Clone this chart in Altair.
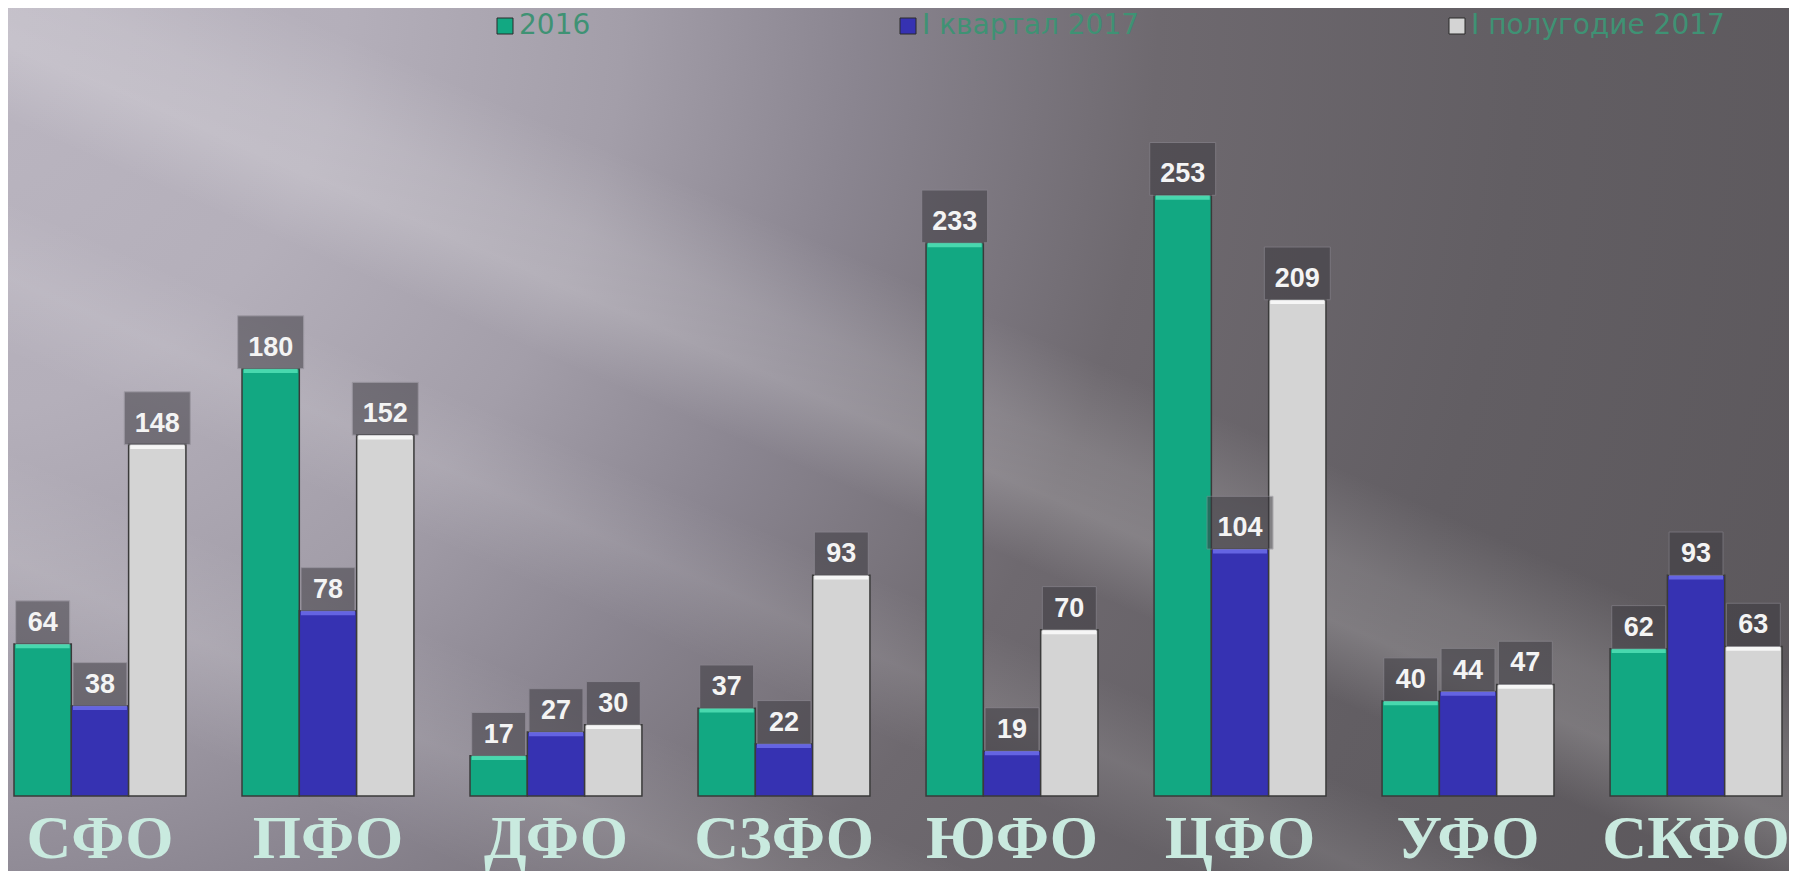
import altair as alt
import pandas as pd

# ---- data ----
districts = ["СФО", "ПФО", "ДФО", "СЗФО", "ЮФО", "ЦФО", "УФО", "СКФО"]
series = ["2016", "I квартал 2017", "I полугодие 2017"]
v2016 = [64, 180, 17, 37, 233, 253, 40, 62]
v_q1_2017 = [38, 78, 27, 22, 19, 104, 44, 93]
v_h1_2017 = [148, 152, 30, 93, 70, 209, 47, 63]

bar_colors = ["#12a882", "#3632b2", "#d4d4d4"]
top_colors = ["#48d8ae", "#6464e2", "#f6f6f6"]

rows = []
for i, d in enumerate(districts):
    for s, vals in zip(series, [v2016, v_q1_2017, v_h1_2017]):
        rows.append({"district": d, "series": s, "value": vals[i]})
df = pd.DataFrame(rows)

# ---- layout ----
W, H = 1768, 755
PL, PT, PR, PB = 6, 33, 7, 75

x_enc = alt.X(
    "district:N",
    sort=districts,
    title=None,
    scale=alt.Scale(paddingInner=0.246, paddingOuter=0),
    axis=alt.Axis(
        labelFont="Liberation Serif",
        labelFontWeight="bold",
        labelFontSize=62,
        labelColor="#c9eadf",
        labelPadding=61,
        labelBaseline="alphabetic",
        labelAngle=0,
        labelLimit=400,
        labelOverlap=False,
        domain=False,
        ticks=False,
        grid=False,
        zindex=1,
    ),
)
xo_enc = alt.XOffset("series:N", sort=series, scale=alt.Scale(paddingInner=0, paddingOuter=0))
y_enc = alt.Y("value:Q", scale=alt.Scale(domain=[0, 318]), axis=None)

bg_df = pd.DataFrame({"k": [0]})

base_grad = alt.RadialGradient(
    gradient="radial",
    x1=-0.05, y1=0.25, r1=0,
    x2=-0.05, y2=0.25, r2=1.2,
    stops=[
        alt.GradientStop(color="#bcb7c2", offset=0.0),
        alt.GradientStop(color="#b4afba", offset=0.2),
        alt.GradientStop(color="#a39ea9", offset=0.33),
        alt.GradientStop(color="#8a8590", offset=0.44),
        alt.GradientStop(color="#6e696f", offset=0.58),
        alt.GradientStop(color="#625e63", offset=0.75),
        alt.GradientStop(color="#5a565a", offset=1.0),
    ],
)
background = alt.Chart(bg_df).mark_rect(fill=base_grad).encode(
    x=alt.value(-PL), x2=alt.value(W + PR), y=alt.value(-PT), y2=alt.value(H + PB)
)

streak_grad = alt.LinearGradient(
    gradient="linear",
    x1=0.9, y1=0, x2=0, y2=1,
    stops=[
        alt.GradientStop(color="rgba(255,255,255,0)", offset=0.0),
        alt.GradientStop(color="rgba(255,255,255,0)", offset=0.37),
        alt.GradientStop(color="rgba(255,255,255,0.14)", offset=0.43),
        alt.GradientStop(color="rgba(255,255,255,0.18)", offset=0.47),
        alt.GradientStop(color="rgba(255,255,255,0)", offset=0.52),
        alt.GradientStop(color="rgba(255,255,255,0)", offset=0.57),
        alt.GradientStop(color="rgba(255,255,255,0.10)", offset=0.62),
        alt.GradientStop(color="rgba(255,255,255,0)", offset=0.67),
        alt.GradientStop(color="rgba(255,255,255,0)", offset=0.73),
        alt.GradientStop(color="rgba(255,255,255,0.12)", offset=0.80),
        alt.GradientStop(color="rgba(255,255,255,0)", offset=0.87),
        alt.GradientStop(color="rgba(255,255,255,0)", offset=1.0),
    ],
)
streaks = alt.Chart(bg_df).mark_rect(fill=streak_grad).encode(
    x=alt.value(-PL), x2=alt.value(W + PR), y=alt.value(-PT), y2=alt.value(H + PB)
)

base = alt.Chart(df)

bars = base.mark_bar(stroke="#3a3a3a", strokeWidth=1.5).encode(
    x=x_enc,
    xOffset=xo_enc,
    y=y_enc,
    color=alt.Color(
        "series:N",
        sort=series,
        scale=alt.Scale(domain=series, range=bar_colors),
        legend=alt.Legend(
            title=None,
            orient="none",
            legendX=477,
            legendY=-29,
            direction="horizontal",
            columnPadding=303,
            symbolType="square",
            symbolSize=256,
            symbolStrokeColor="#2a2a2a",
            symbolStrokeWidth=1,
            labelFont="DejaVu Sans",
            labelFontSize=28,
            labelColor="#3f9274",
            labelOffset=0,
            labelLimit=400,
            padding=0,
        ),
    ),
)

highlights = base.mark_point(
    shape="M-1,0L1,0L1,0.16L-1,0.16Z", filled=True, opacity=1, size=2916, strokeWidth=0
).encode(
    x=x_enc,
    xOffset=xo_enc,
    y=y_enc,
    color=alt.Color("series:N", sort=series, scale=alt.Scale(domain=series, range=top_colors), legend=None),
)

boxes = base.mark_point(
    shape="M-1,-1.6L1,-1.6L1,0L-1,0Z",
    filled=True,
    color="#3a383e",
    opacity=0.52,
    stroke="#8a8790",
    strokeWidth=1,
).encode(
    x=x_enc,
    xOffset=xo_enc,
    y=y_enc,
    size=alt.condition("datum.value >= 100", alt.value(4356), alt.value(2916)),
)

labels = base.mark_text(
    font="Liberation Sans",
    fontWeight="bold",
    fontSize=27,
    color="#f4f4f4",
    baseline="middle",
    dy=-21,
).encode(
    x=x_enc,
    xOffset=xo_enc,
    y=y_enc,
    text="value:Q",
)

chart = (
    alt.layer(background, streaks, bars, highlights, boxes, labels)
    .resolve_scale(color="independent")
    .properties(
        width=W,
        height=H,
        padding={"left": PL, "top": PT, "right": PR, "bottom": PB},
        autosize=alt.AutoSizeParams(type="none"),
        background="#6a656b",
    )
    .configure_view(stroke="transparent")
)

chart.save("out.html", embed_options={"renderer": "svg", "actions": False})
